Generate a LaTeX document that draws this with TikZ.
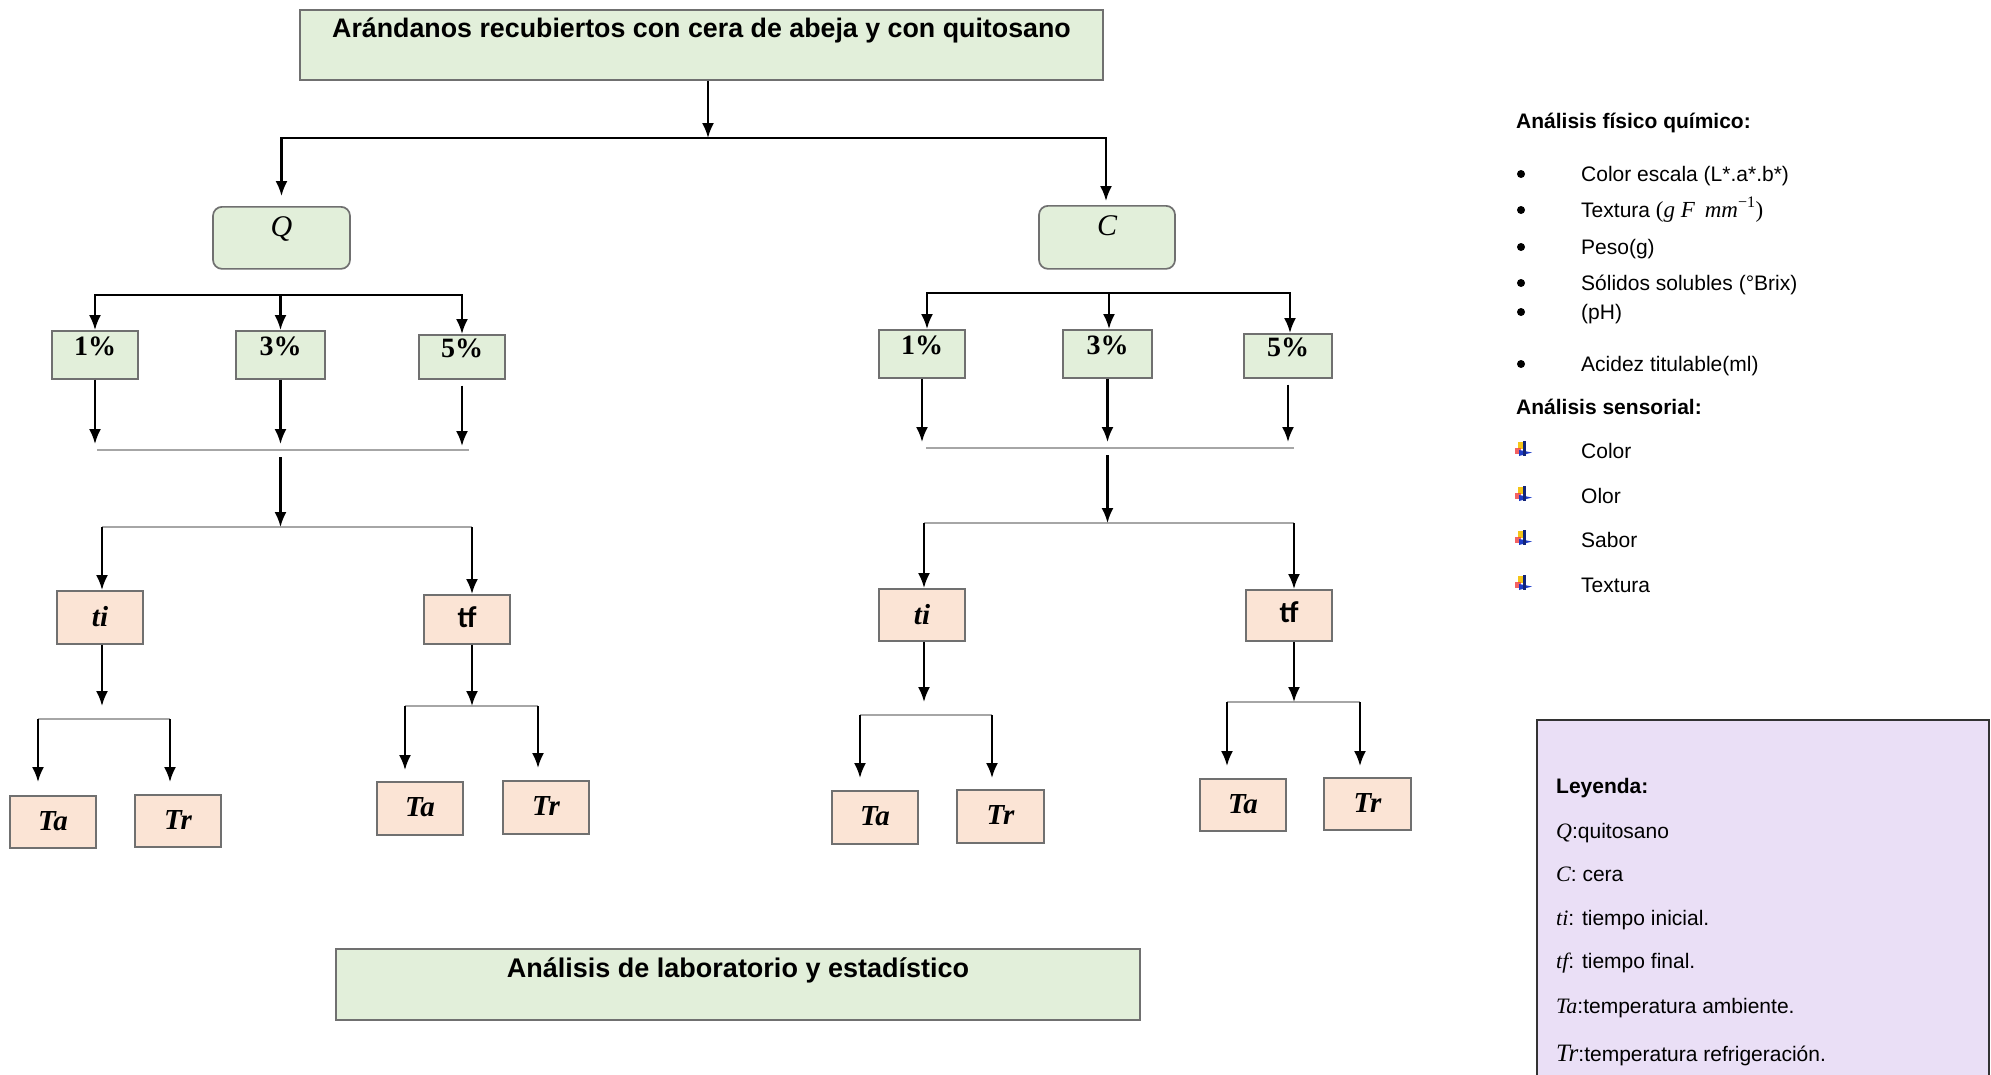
\documentclass[tikz,border=0pt]{standalone}
\usepackage{fontspec}
\usetikzlibrary{arrows.meta}
\newfontfamily\arialf{Liberation Sans}
\newfontfamily\seriff{Liberation Serif}
\newfontfamily\carlf{Carlito}
\newcommand\mi[1]{{\seriff\itshape #1}}
\definecolor{gfill}{HTML}{E2EFDA}
\definecolor{pfill}{HTML}{FBE4D5}
\definecolor{lfill}{HTML}{EADFF6}
\definecolor{bgray}{HTML}{707070}
\definecolor{lgray}{HTML}{A6A6A6}
\definecolor{icyel}{HTML}{F5C518}
\definecolor{icred}{HTML}{F03C3C}
\definecolor{icblu}{HTML}{1E3CC8}
\tikzset{
  gbox/.style={draw=bgray, fill=gfill, line width=1.7pt, inner sep=0pt, anchor=north},
  pbox/.style={draw=bgray, fill=pfill, line width=1.7pt, inner sep=0pt, anchor=north},
  arr/.style={line width=2.2pt, -{Latex[length=15pt,width=12pt]}},
  bbar/.style={line width=2.4pt, line cap=rect},
  gbar/.style={line width=2pt, draw=lgray},
  pct/.style={font=\seriff\bfseries\fontsize{28}{30}\selectfont},
  itb/.style={font=\seriff\bfseries\itshape\fontsize{29}{30}\selectfont},
  rtxt/.style={anchor=base west, inner sep=0pt, font=\arialf\fontsize{21}{25}\selectfont},
  rhead/.style={anchor=base west, inner sep=0pt, font=\arialf\bfseries\fontsize{21}{25}\selectfont},
  bul/.style={circle, fill=black, inner sep=0pt, minimum size=8pt},
}
\newcommand\sicon[2]{%
  \fill[icyel] (#1+2,#2-15) rectangle (#1+7,#2-8);
  \fill[icred,opacity=0.8] (#1-1,#2-9) rectangle (#1+5,#2-3);
  \fill[icblu] (#1+3,#2-7) -- (#1+16,#2-4.5) -- (#1+3,#2-1) -- cycle;
  \fill[icblu!60!black] (#1+7,#2-16) rectangle (#1+9.5,#2-1);
}
\begin{document}
\begin{tikzpicture}[x=1pt,y=-1pt]
\useasboundingbox (0,0) rectangle (1991,1074);
\fill[white] (0,0) rectangle (1991,1074);

% ---------- title & bottom
\node[gbox, minimum width=803pt, text height=28pt, text depth=42pt,
      font=\arialf\bfseries\fontsize{26.8}{30}\selectfont] (title) at (701.5,9)
      {Arándanos recubiertos con cera de abeja y con quitosano};
\node[gbox, minimum width=804pt, text height=29pt, text depth=42pt,
      font=\arialf\bfseries\fontsize{27}{30}\selectfont] (final) at (738,948)
      {Análisis de laboratorio y estadístico};

% ---------- Q and C
\node[gbox, rounded corners=9pt, minimum width=137pt, text height=30pt, text depth=32pt,
      font=\seriff\itshape\fontsize{30}{30}\selectfont] (Q) at (281.5,206) {Q};
\node[gbox, rounded corners=9pt, minimum width=136pt, text height=30pt, text depth=33pt,
      font=\seriff\itshape\fontsize{30}{30}\selectfont] (C) at (1107,205) {C};

\coordinate (b1) at (708,138);
\coordinate (b1l) at (281.5,138);
\coordinate (b1r) at (1106,138);
\draw[arr] (title.south -| b1) -- (b1);
\draw[bbar] (b1l) -- (b1r);
\draw[arr, shorten >=10pt] (b1l) -- (Q.north);
\draw[arr, shorten >=4pt] (b1r) -- (b1r |- C.north);

% ================= LEFT TREE
\node[gbox, pct, minimum width=86pt, text height=25pt, text depth=23pt] (lp1) at (95,330) {1\%};
\node[gbox, pct, minimum width=89pt, text height=25pt, text depth=23pt] (lp3) at (280.5,330) {3\%};
\node[gbox, pct, minimum width=86pt, text height=23pt, text depth=21pt] (lp5) at (462,334) {5\%};
\coordinate (lb2) at (0,295);
\draw[bbar] (lp1.north |- lb2) -- (lp5.north |- lb2);
\draw[arr] (lp1.north |- lb2) -- (lp1.north);
\draw[arr] (lp3.north |- lb2) -- (lp3.north);
\draw[arr] (lp5.north |- lb2) -- (lp5.north);

\coordinate (lg3) at (0,450);
\coordinate (lg3l) at (97,450);
\coordinate (lg3r) at (469,450);
\draw[gbar] (lg3l) -- (lg3r);
\draw[arr, shorten >=6pt] (lp1.south) -- (lp1.south |- lg3);
\draw[arr, shorten >=6pt] (lp3.south) -- (lp3.south |- lg3);
\draw[arr, shorten >=4pt, shorten <=6pt] (lp5.south) -- (lp5.south |- lg3);

\node[pbox, itb, minimum width=86pt, text height=36pt, text depth=17pt] (lti) at (100,590) {ti};
\node[pbox, minimum width=86pt, text height=33pt, text depth=16pt,
      font=\carlf\bfseries\fontsize{30}{30}\selectfont] (ltf) at (467,594) {tf};
\coordinate (lg4) at (0,527);
\coordinate (lg4l) at (102,527);
\coordinate (lg4r) at (472,527);
\draw[gbar] (lg4l) -- (lg4r);
\draw[arr, shorten <=7pt] (lp3.south |- lg3) -- (lp3.south |- lg4);
\draw[arr] (lg4l) -- (lg4l |- lti.north);
\draw[arr] (lg4r) -- (lg4r |- ltf.north);

% ti -> Ta / Tr
\node[pbox, itb, minimum width=86pt, text height=35pt, text depth=17pt] (lTa1) at (53,795) {Ta};
\node[pbox, itb, minimum width=86pt, text height=35pt, text depth=17pt] (lTr1) at (178,794) {Tr};
\coordinate (lg5l) at (38,719);
\coordinate (lg5r) at (170,719);
\draw[gbar] (lg5l) -- (lg5r);
\draw[arr, shorten >=13pt] (lti.south -| lg4l) -- (lg4l |- lg5l);
\draw[arr, shorten >=13pt] (lg5l) -- (lg5l |- lTa1.north);
\draw[arr, shorten >=12pt] (lg5r) -- (lg5r |- lTr1.north);

% tf -> Ta / Tr
\node[pbox, itb, minimum width=86pt, text height=35pt, text depth=18pt] (lTa2) at (420,781) {Ta};
\node[pbox, itb, minimum width=86pt, text height=35pt, text depth=18pt] (lTr2) at (546,780) {Tr};
\coordinate (lg6l) at (405,706);
\coordinate (lg6r) at (538,706);
\draw[gbar] (lg6l) -- (lg6r);
\draw[arr] (ltf.south -| lg4r) -- (lg4r |- lg6l);
\draw[arr, shorten >=11pt] (lg6l) -- (lg6l |- lTa2.north);
\draw[arr, shorten >=12pt] (lg6r) -- (lg6r |- lTr2.north);

% ================= RIGHT TREE
\node[gbox, pct, minimum width=86pt, text height=25pt, text depth=23pt] (rp1) at (922,329) {1\%};
\node[gbox, pct, minimum width=89pt, text height=25pt, text depth=23pt] (rp3) at (1107.5,329) {3\%};
\node[gbox, pct, minimum width=88pt, text height=23pt, text depth=21pt] (rp5) at (1288,333) {5\%};
\coordinate (rb2l) at (927,293);
\coordinate (rb2m) at (1109,293);
\coordinate (rb2r) at (1290,293);
\draw[bbar] (rb2l) -- (rb2r);
\draw[arr] (rb2l) -- (rb2l |- rp1.north);
\draw[arr] (rb2m) -- (rb2m |- rp3.north);
\draw[arr] (rb2r) -- (rb2r |- rp5.north);

\coordinate (rg3l) at (926,448);
\coordinate (rg3r) at (1294,448);
\draw[gbar] (rg3l) -- (rg3r);
\draw[arr, shorten >=6pt] (rp1.south) -- (rp1.south |- rg3l);
\draw[arr, shorten >=6pt] (rp3.south) -- (rp3.south |- rg3l);
\draw[arr, shorten >=6pt, shorten <=6pt] (rp5.south) -- (rp5.south |- rg3l);

\node[pbox, itb, minimum width=86pt, text height=36pt, text depth=16pt] (rti) at (922,588) {ti};
\node[pbox, minimum width=86pt, text height=33pt, text depth=18pt,
      font=\carlf\bfseries\fontsize{30}{30}\selectfont] (rtf) at (1289,589) {tf};
\coordinate (rg4l) at (924,523);
\coordinate (rg4r) at (1294,523);
\draw[gbar] (rg4l) -- (rg4r);
\draw[arr, shorten <=7pt] (rp3.south |- rg3l) -- (rp3.south |- rg4l);
\draw[arr] (rg4l) -- (rg4l |- rti.north);
\draw[arr] (rg4r) -- (rg4r |- rtf.north);

\node[pbox, itb, minimum width=86pt, text height=35pt, text depth=18pt] (rTa1) at (875,790) {Ta};
\node[pbox, itb, minimum width=87pt, text height=35pt, text depth=18pt] (rTr1) at (1000.5,789) {Tr};
\coordinate (rg5l) at (860,715);
\coordinate (rg5r) at (992,715);
\draw[gbar] (rg5l) -- (rg5r);
\draw[arr, shorten >=13pt] (rti.south -| rg4l) -- (rg4l |- rg5l);
\draw[arr, shorten >=12pt] (rg5l) -- (rg5l |- rTa1.north);
\draw[arr, shorten >=11pt] (rg5r) -- (rg5r |- rTr1.north);

\node[pbox, itb, minimum width=86pt, text height=35pt, text depth=17pt] (rTa2) at (1243,778) {Ta};
\node[pbox, itb, minimum width=87pt, text height=35pt, text depth=17pt] (rTr2) at (1367.5,777) {Tr};
\coordinate (rg6l) at (1227,702);
\coordinate (rg6r) at (1360,702);
\draw[gbar] (rg6l) -- (rg6r);
\draw[arr] (rtf.south -| rg4r) -- (rg4r |- rg6l);
\draw[arr, shorten >=12pt] (rg6l) -- (rg6l |- rTa2.north);
\draw[arr, shorten >=11pt] (rg6r) -- (rg6r |- rTr2.north);

% ================= RIGHT TEXT
\node[rhead] (h1) at (1516,128) {Análisis físico químico:};
\node[bul] (u1) at (1521,174) {}; \node[rtxt] (t1) at (1581,181) {Color escala (L*.a*.b*)};
\node[bul] (u2) at (1521,210) {}; \node[rtxt] (t2) at (1581,217) {Textura {\seriff\fontsize{23}{25}\selectfont(\mi{g F}\hspace{10pt}\mi{mm}\textsuperscript{−1})}};
\node[bul] (u3) at (1521,247) {}; \node[rtxt] (t3) at (1581,254) {Peso(g)};
\node[bul] (u4) at (1521,283) {}; \node[rtxt] (t4) at (1581,290) {Sólidos solubles (°Brix)};
\node[bul] (u5) at (1521,312) {}; \node[rtxt] (t5) at (1581,319) {(pH)};
\node[bul] (u6) at (1521,364) {}; \node[rtxt] (t6) at (1581,371) {Acidez titulable(ml)};
\node[rhead] (h2) at (1516,414) {Análisis sensorial:};
\sicon{1516}{457}\node[rtxt] (s1) at (1581,458) {Color};
\sicon{1516}{502}\node[rtxt] (s2) at (1581,503) {Olor};
\sicon{1516}{546}\node[rtxt] (s3) at (1581,547) {Sabor};
\sicon{1516}{591}\node[rtxt] (s4) at (1581,592) {Textura};

% ================= LEGEND
\draw[fill=lfill, draw=black!80, line width=1.6pt] (1537,720) rectangle (1989,1100);
\node[rhead] (l0) at (1556,793) {Leyenda:};
\node[rtxt] (l1) at (1556,838) {{\fontsize{22}{25}\selectfont\mi{Q}}:quitosano};
\node[rtxt] (l2) at (1556,881) {{\fontsize{22}{25}\selectfont\mi{C}}: cera};
\node[rtxt] (l3) at (1556,925) {{\fontsize{22}{25}\selectfont\mi{ti}}: tiempo inicial.};
\node[rtxt] (l4) at (1556,968) {{\fontsize{22}{25}\selectfont\mi{tf}}: tiempo final.};
\node[rtxt] (l5) at (1556,1013) {{\fontsize{22}{25}\selectfont\mi{Ta}}:temperatura ambiente.};
\node[rtxt] (l6) at (1556,1061) {{\fontsize{25}{26}\selectfont\mi{Tr}}:temperatura refrigeración.};
\end{tikzpicture}
\end{document}
